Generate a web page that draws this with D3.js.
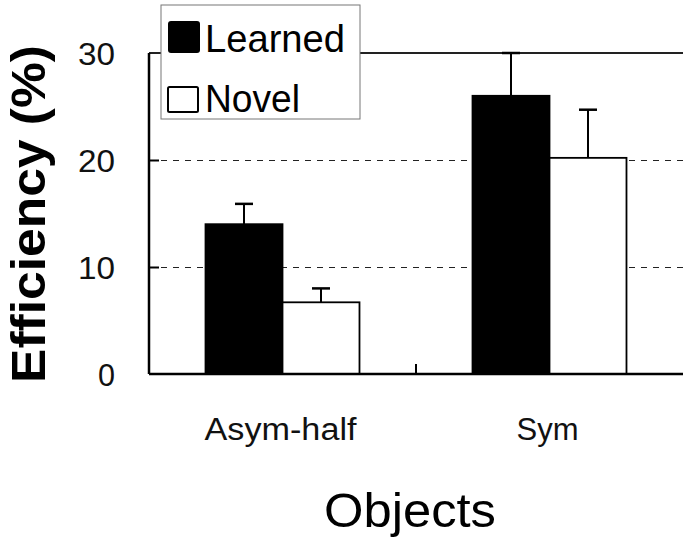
<!DOCTYPE html>
<html><head><meta charset="utf-8">
<script src="https://cdn.jsdelivr.net/npm/d3@7"></script>
<style>body{margin:0;background:#fff}svg{display:block}text{font-family:"Liberation Sans",Arial,Helvetica,sans-serif}</style>
</head><body>
<svg id="c" width="683" height="537"></svg>
<script>
const categories = ["Asym-half", "Sym"];
const seriesNames = ["Learned", "Novel"];
const learnedValues = [14.0, 26.0];
const learnedErrors = [1.9, 4.0];
const novelValues = [6.7, 20.2];
const novelErrors = [1.3, 4.5];
const yTicks = [0, 10, 20, 30];

const svg = d3.select("#c");
const pLeft = 149, pRight = 683, pTop = 53, pBottom = 374;
const y = d3.scaleLinear().domain([0, 30]).range([pBottom, pTop]);
const x0 = d3.scaleBand().domain(categories).range([pLeft, pRight]).paddingInner(0).paddingOuter(0);
const x1 = d3.scaleBand().domain(seriesNames).range([0, x0.bandwidth()]).paddingInner(0).paddingOuter(0.734);

const data = categories.map((c, i) => ({
  cat: c,
  vals: [
    {s: "Learned", v: learnedValues[i], e: learnedErrors[i]},
    {s: "Novel", v: novelValues[i], e: novelErrors[i]}
  ]
}));

// gridlines
svg.append("g").selectAll("line").data(yTicks.filter(t => t > 0 && t < 30)).join("line")
  .attr("x1", pLeft).attr("x2", pRight).attr("y1", d => Math.round(y(d)) + 0.5).attr("y2", d => Math.round(y(d)) + 0.5)
  .attr("stroke", "#222").attr("stroke-width", 1).attr("stroke-dasharray", "6,6");

// top border
svg.append("line").attr("x1", pLeft).attr("x2", pRight).attr("y1", y(30)).attr("y2", y(30))
  .attr("stroke", "#222").attr("stroke-width", 2);

// error bars
const groups = svg.append("g").selectAll("g").data(data).join("g")
  .attr("transform", d => `translate(${x0(d.cat)},0)`);
groups.selectAll("line.err").data(d => d.vals).join("line").attr("class", "err")
  .attr("x1", d => x1(d.s) + x1.bandwidth() / 2).attr("x2", d => x1(d.s) + x1.bandwidth() / 2)
  .attr("y1", d => y(d.v)).attr("y2", d => y(Math.min(30, d.v + d.e)))
  .attr("stroke", "#000").attr("stroke-width", 2);
groups.selectAll("line.cap").data(d => d.vals).join("line").attr("class", "cap")
  .attr("x1", d => x1(d.s) + x1.bandwidth() / 2 - 9).attr("x2", d => x1(d.s) + x1.bandwidth() / 2 + 9)
  .attr("y1", d => y(Math.min(30, d.v + d.e))).attr("y2", d => y(Math.min(30, d.v + d.e)))
  .attr("stroke", "#000").attr("stroke-width", 2.5);

// bars
groups.selectAll("rect").data(d => d.vals).join("rect")
  .attr("x", d => x1(d.s)).attr("width", x1.bandwidth())
  .attr("y", d => y(d.v)).attr("height", d => y(0) - y(d.v))
  .attr("fill", d => d.s === "Learned" ? "#000" : "#fff")
  .attr("stroke", "#000").attr("stroke-width", 1.8);

// y axis
const yAxis = d3.axisLeft(y).tickValues(yTicks).tickSize(-10).tickPadding(34).tickFormat(d3.format("d"));
const ya = svg.append("g").attr("transform", `translate(${pLeft},0)`).call(yAxis);
ya.select(".domain").attr("stroke", "#000").attr("stroke-width", 2.5).attr("d", `M0,${pBottom}V${pTop}H0`);
ya.selectAll(".tick line").attr("stroke", "#000").attr("stroke-width", 2);
ya.selectAll(".tick").filter(d => d === 0 || d === 30).select("line").remove();
ya.selectAll(".tick text").attr("font-size", 31).attr("fill", "#111")
  .attr("x", -34).attr("dy", "0.36em")
  .attr("textLength", d => String(d).length === 1 ? 17 : 37).attr("lengthAdjust", "spacingAndGlyphs");

// x axis
const xa = svg.append("g").attr("transform", `translate(0,${pBottom})`);
xa.append("line").attr("x1", pLeft).attr("x2", pRight).attr("y1", 0).attr("y2", 0)
  .attr("stroke", "#000").attr("stroke-width", 2.5);
xa.selectAll("line.t").data(categories.slice(1)).join("line").attr("class", "t")
  .attr("x1", d => x0(d)).attr("x2", d => x0(d)).attr("y1", 0).attr("y2", -10)
  .attr("stroke", "#000").attr("stroke-width", 2);
const xLabelW = {"Asym-half": 152, "Sym": 62};
svg.append("g").selectAll("text").data(categories).join("text")
  .attr("x", d => x0(d) + x0.bandwidth() / 2 - 2).attr("y", 440)
  .attr("text-anchor", "middle").attr("font-size", 31).attr("fill", "#111")
  .attr("textLength", d => xLabelW[d]).attr("lengthAdjust", "spacingAndGlyphs")
  .text(d => d);

// axis titles
svg.append("text").attr("x", 410).attr("y", 527).attr("text-anchor", "middle")
  .attr("font-size", 49).attr("fill", "#000").attr("textLength", 172).attr("lengthAdjust", "spacingAndGlyphs")
  .text("Objects");
svg.append("text").attr("transform", "translate(45,214) rotate(-90)").attr("text-anchor", "middle")
  .attr("font-size", 49).attr("font-weight", "bold").attr("fill", "#000")
  .attr("textLength", 338).attr("lengthAdjust", "spacingAndGlyphs")
  .text("Efficiency (%)");

// legend
const lg = svg.append("g");
lg.append("rect").attr("x", 161).attr("y", 5).attr("width", 199).attr("height", 114)
  .attr("fill", "#fff").attr("stroke", "#777").attr("stroke-width", 1);
const legendY = [52, 112];
const legendW = {"Learned": 140, "Novel": 95};
seriesNames.forEach((s, i) => {
  if (s === "Learned") {
    lg.append("rect").attr("x", 168).attr("y", 21).attr("width", 32).attr("height", 32).attr("rx", 3)
      .attr("fill", "#000");
  } else {
    lg.append("rect").attr("x", 168).attr("y", 87).attr("width", 30).attr("height", 25).attr("rx", 1.5)
      .attr("fill", "#fff").attr("stroke", "#000").attr("stroke-width", 2);
  }
  lg.append("text").attr("x", 205).attr("y", legendY[i]).attr("font-size", 39).attr("fill", "#000")
    .attr("textLength", legendW[s]).attr("lengthAdjust", "spacingAndGlyphs").text(s);
});
</script>
</body></html>
